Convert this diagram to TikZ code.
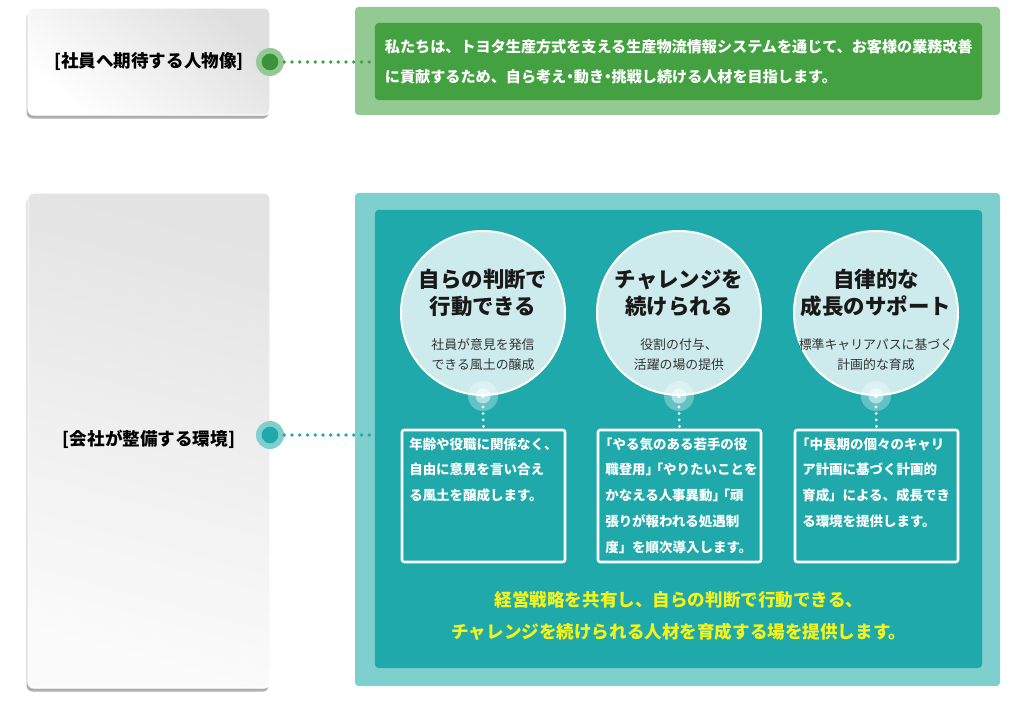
\documentclass[tikz,border=0pt]{standalone}
\usepackage{fontspec}
\setmainfont{Noto Sans CJK JP}
\usetikzlibrary{shadows,positioning}
\definecolor{lgreen}{HTML}{93C993}
\definecolor{dgreen}{HTML}{43A142}
\definecolor{lteal}{HTML}{80CFCF}
\definecolor{dteal}{HTML}{1FA9AB}
\definecolor{circfill}{HTML}{CDEBEC}
\definecolor{goalyellow}{HTML}{F4F41C}
\newcommand{\obr}{\hspace*{-0.45em}「}
\newcommand{\cbr}{」\kern-0.7em「}
\newcommand{\nakaguro}{\kern-0.25em・\kern-0.25em}

\begin{document}
\begin{tikzpicture}[x=0.03cm, y=-0.03cm,
  sidebox/.style={draw=white, line width=1pt, rounded corners=5pt, minimum width=7.26cm,
    drop shadow={shadow xshift=-1.2pt, shadow yshift=-3pt, opacity=.7, fill=black!45},
    font=\bfseries\fontsize{15}{18}\selectfont},
  dotout/.style={circle, minimum size=0.84cm, inner sep=0pt},
  dotin/.style={circle, minimum size=0.5cm, inner sep=0pt},
  dots/.style={line width=3.2pt, line cap=round, dash pattern=on 0pt off 6.6pt},
  bubble/.style={circle, fill=circfill, draw=white, line width=1.7pt, minimum size=4.92cm},
  bubtitle/.style={align=center, text=black!90, font=\bfseries\fontsize{18.3}{23}\selectfont},
  bubsub/.style={align=center, text=black!80, font=\fontsize{11}{17}\selectfont},
  framebox/.style={draw=white, line width=2.2pt, rounded corners=2pt, minimum width=4.89cm, minimum height=3.96cm},
  bodytext/.style={align=left, inner sep=0pt, text=white, font=\bfseries\fontsize{11.5}{22}\selectfont}]
\useasboundingbox (0,0) rectangle (1024,704);

% upper row
\node[sidebox, minimum height=3.21cm, top color=gray!25, bottom color=white, shading angle=-40] (person) at (149,61.5) {[社員へ期待する人物像]};
\fill[lgreen, rounded corners=3pt] (355,7) rectangle (1000,115);
\node[fill=dgreen, rounded corners=3pt, minimum width=18.21cm, minimum height=2.31cm,
  inner xsep=0.3cm, text width=17.61cm, align=left, text=white,
  font=\bfseries\fontsize{12.9}{25.5}\selectfont] (vision) at (678.5,61.5)
  {私たちは、トヨタ生産方式を支える生産物流情報システムを通じて、お客様の業務改善\\に貢献するため、自ら考え\nakaguro 動き\nakaguro 挑戦し続ける人材を目指します。};
\node[dotout, fill=lgreen] (g1) at (270,62) {};
\node[dotin, fill=dgreen!90!black] at (g1) {};
\draw[dots, dgreen] (g1.east) -- (g1.east -| vision.west);

% lower row
\node[sidebox, minimum height=14.85cm, top color=gray!22, middle color=white!96!gray, bottom color=white!97!gray, shading angle=-15] (company) at (149,440.5) {\raisebox{5pt}{[会社が整備する環境]}};
\fill[lteal, rounded corners=3pt] (355,193) rectangle (1000,686);
\node[fill=dteal, rounded corners=3pt, minimum width=18.21cm, minimum height=13.74cm] (stage) at (678.5,439) {};
\node[dotout, fill=lteal] (g2) at (270,435) {};
\node[dotin, fill=dteal] at (g2) {};
\draw[dots, dteal] (g2.east) -- (g2.east -| stage.west);

\foreach \x/\t/\s/\b [count=\i] in {
  483/{自らの判断で\\行動できる}/{社員が意見を発信\\できる風土の醸成}/{年齢や役職に関係なく、\\自由に意見を言い合え\\る風土を醸成します。},
  679/{チャレンジを\\続けられる}/{役割の付与、\\活躍の場の提供}/{\obr やる気のある若手の役\\職登用\cbr やりたいことを\\かなえる人事異動\cbr 頑\\張りが報われる処遇制\\度」を順次導入します。},
  876/{自律的な\\成長のサポート}/{標準キャリアパスに基づく\\計画的な育成}/{\obr 中長期の個々のキャリ\\ア計画に基づく計画的\\育成」による、成長でき\\る環境を提供します。}}{
  \node[bubble] (c\i) at (\x,313) {};
  \node[bubtitle] (t\i) at (\x,293) {\t};
  \node[bubsub] (s\i) at (\x,355) {\s};
  \node[circle, fill=white, fill opacity=.3, minimum size=0.9cm] (h\i) at (\x,396) {};
  \node[circle, fill=white, fill opacity=.5, minimum size=0.45cm] at (h\i) {};
  \node[circle, fill=white, minimum size=0.12cm, inner sep=0pt] at (h\i) {};
  \node[framebox] (r\i) at (\x+0.5,496) {};
  \node[bodytext, anchor=north west] (b\i) at ([xshift=0.25cm, yshift=-0.26cm]r\i.north west) {\b};
  \draw[white, line width=2.6pt, line cap=round, dash pattern=on 0pt off 5.5pt] (h\i.center) ++(0,11) -- (r\i.north);
}

\node[align=center, text=goalyellow, font=\bfseries\fontsize{15}{27}\selectfont] (goal) at (679,616)
  {経営戦略を共有し、自らの判断で行動できる、\\チャレンジを続けられる人材を育成する場を提供します。};
\end{tikzpicture}
\end{document}
